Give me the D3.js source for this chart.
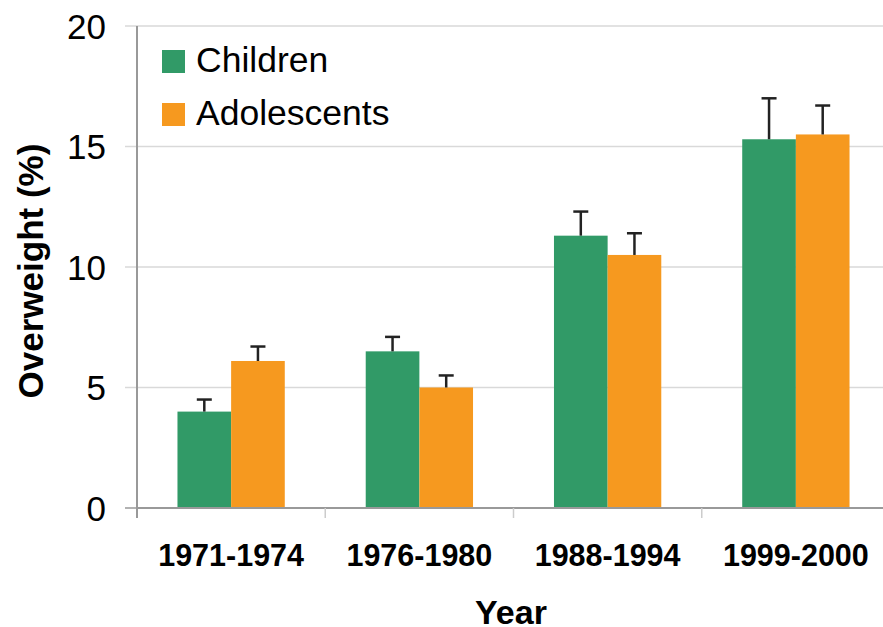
<!DOCTYPE html>
<html><head><meta charset="utf-8">
<script src="https://cdnjs.cloudflare.com/ajax/libs/d3/7.8.5/d3.min.js"></script>
<style>body{margin:0;background:#fff}svg{display:block}text{font-family:"Liberation Sans",Arial,sans-serif;fill:#000}</style>
</head><body><svg id="c" width="883" height="627"></svg>
<script>
const categories = ["1971-1974","1976-1980","1988-1994","1999-2000"];
const seriesNames = ["Children","Adolescents"];
const children = [4.0, 6.5, 11.3, 15.3];
const childrenErr = [4.5, 7.1, 12.3, 17.0];
const adolescents = [6.1, 5.0, 10.5, 15.5];
const adolescentsErr = [6.7, 5.5, 11.4, 16.7];
const yTicks = [0,5,10,15,20];
const colors = ["#319a67","#f6991f"];

const svg = d3.select("#c");
const mLeft = 137, mRight = 890, mTop = 26, mBottom = 508;
const x0 = d3.scaleBand().domain(categories).range([mLeft,mRight]).paddingInner(0.43).paddingOuter(0.215);
const x1 = d3.scaleBand().domain(seriesNames).range([0,x0.bandwidth()]);
const y = d3.scaleLinear().domain([0,20]).range([mBottom,mTop]);

// gridlines
svg.append("g").selectAll("line").data(yTicks.filter(d=>d>0)).join("line")
  .attr("x1",mLeft-12).attr("x2",mRight).attr("y1",d=>y(d)).attr("y2",d=>y(d))
  .attr("stroke","#d9d9d9").attr("stroke-width",1.5);
svg.append("line").attr("x1",mLeft-12).attr("x2",mLeft).attr("y1",y(0)).attr("y2",y(0)).attr("stroke","#999").attr("stroke-width",1.5);

// y tick labels
svg.append("g").selectAll("text").data(yTicks).join("text")
  .attr("x",106).attr("y",d=>y(d)+12.5)
  .attr("text-anchor","end").attr("font-size",35).text(d=>d);

const data = categories.map((c,i)=>({c, vals:[{s:"Children",v:children[i],e:childrenErr[i]},{s:"Adolescents",v:adolescents[i],e:adolescentsErr[i]}]}));
const g = svg.append("g").selectAll("g").data(data).join("g").attr("transform",d=>`translate(${x0(d.c)},0)`);
g.selectAll("rect").data(d=>d.vals).join("rect")
  .attr("x",d=>x1(d.s)).attr("width",x1.bandwidth()).attr("y",d=>y(d.v)).attr("height",d=>y(0)-y(d.v))
  .attr("fill",(d,i)=>colors[i]);
g.selectAll("line.err").data(d=>d.vals).join("line").attr("class","err")
  .attr("x1",d=>x1(d.s)+x1.bandwidth()/2).attr("x2",d=>x1(d.s)+x1.bandwidth()/2)
  .attr("y1",d=>y(d.v)).attr("y2",d=>y(d.e)).attr("stroke","#222").attr("stroke-width",2.5);
g.selectAll("line.cap").data(d=>d.vals).join("line").attr("class","cap")
  .attr("x1",d=>x1(d.s)+x1.bandwidth()/2-7.5).attr("x2",d=>x1(d.s)+x1.bandwidth()/2+7.5)
  .attr("y1",d=>y(d.e)).attr("y2",d=>y(d.e)).attr("stroke","#222").attr("stroke-width",2.5);

// axes lines
svg.append("line").attr("x1",mLeft).attr("x2",mLeft).attr("y1",mTop).attr("y2",mBottom+10).attr("stroke","#999").attr("stroke-width",2);
svg.append("line").attr("x1",mLeft).attr("x2",mRight).attr("y1",mBottom).attr("y2",mBottom).attr("stroke","#999").attr("stroke-width",2);
const step = x0.step();
svg.append("g").selectAll("line").data(categories.slice(1)).join("line")
  .attr("x1",d=>x0(d)-x0.paddingInner()*step/2).attr("x2",d=>x0(d)-x0.paddingInner()*step/2)
  .attr("y1",mBottom).attr("y2",mBottom+10).attr("stroke","#ccc").attr("stroke-width",1.5);

// x tick labels
svg.append("g").selectAll("text").data(categories).join("text")
  .attr("x",d=>x0(d)+x0.bandwidth()/2).attr("y",566).attr("text-anchor","middle")
  .attr("font-size",30.5).attr("font-weight","bold").text(d=>d);

// axis titles
svg.append("text").attr("x",511).attr("y",624).attr("text-anchor","middle").attr("font-size",34).attr("font-weight","bold").text("Year");
svg.append("text").attr("transform","translate(43,271) rotate(-90)").attr("text-anchor","middle").attr("font-size",35).attr("font-weight","bold").text("Overweight (%)");

// legend
const leg = svg.append("g").selectAll("g").data(seriesNames).join("g").attr("transform",(d,i)=>`translate(162,${50+i*53})`);
leg.append("rect").attr("width",23).attr("height",23).attr("fill",(d,i)=>colors[i]);
leg.append("text").attr("x",34).attr("y",22).attr("font-size",35.5).text(d=>d);
</script></body></html>
